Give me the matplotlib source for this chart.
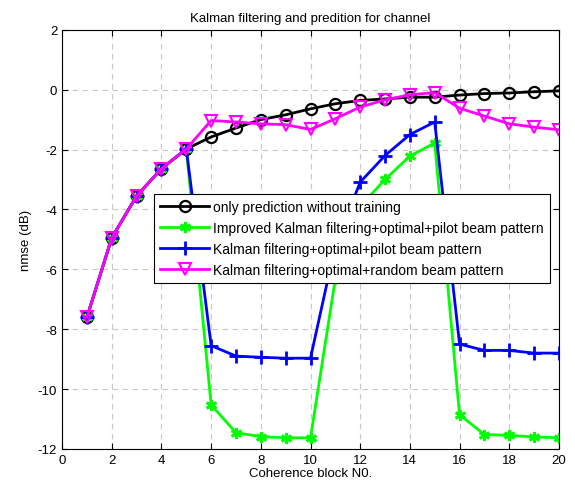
import matplotlib
matplotlib.use('Agg')
import matplotlib.pyplot as plt

plt.rcParams['font.family'] = ['Liberation Sans', 'DejaVu Sans']
plt.rcParams['axes.unicode_minus'] = False

blocks = list(range(1, 21))

only_pred = [-7.6, -4.95, -3.55, -2.64, -1.98, -1.58, -1.28, -1.0, -0.84, -0.64,
             -0.47, -0.36, -0.31, -0.25, -0.25, -0.18, -0.13, -0.11, -0.07, -0.04]
improved_kf = [-7.6, -4.95, -3.55, -2.64, -1.98, -10.53, -11.46, -11.59, -11.63, -11.63,
               -6.32, -3.9, -3.0, -2.22, -1.78, -10.86, -11.52, -11.55, -11.6, -11.63]
kf_pilot = [-7.6, -4.95, -3.55, -2.64, -1.98, -8.55, -8.9, -8.94, -8.97, -8.97,
            -5.2, -3.09, -2.2, -1.5, -1.08, -8.5, -8.71, -8.71, -8.8, -8.8]
kf_random = [-7.6, -4.95, -3.55, -2.64, -1.98, -1.03, -1.08, -1.14, -1.17, -1.33,
             -0.97, -0.58, -0.34, -0.17, -0.1, -0.62, -0.88, -1.14, -1.25, -1.34]

labels = ['only prediction without training',
          'Improved Kalman filtering+optimal+pilot beam pattern',
          'Kalman filtering+optimal+pilot beam pattern',
          'Kalman filtering+optimal+random beam pattern']

fig = plt.figure(figsize=(5.75, 4.89), dpi=100)
ax = fig.add_axes([0.108, 0.08, 0.864, 0.857])

ax.plot(blocks, only_pred, color='black', marker='o', markersize=8, markerfacecolor='none',
        markeredgewidth=1.6, linewidth=2, label=labels[0])
ax.plot(blocks, improved_kf, color='#00ff00', marker=(6, 2, 0), markersize=8,
        markeredgewidth=2, linewidth=2, label=labels[1])
ax.plot(blocks, kf_pilot, color='#0000ff', marker='+', markersize=10,
        markeredgewidth=2, linewidth=2, label=labels[2])
ax.plot(blocks, kf_random, color='#ff00ff', marker='v', markersize=8.5, markerfacecolor='none',
        markeredgewidth=1.5, linewidth=2, label=labels[3])

ax.set_xlim(0, 20)
ax.set_ylim(-12, 2)
ax.set_xticks(range(0, 21, 2))
ax.set_yticks(range(-12, 3, 2))
ax.tick_params(direction='in', top=True, right=True, labelsize=9.5, length=4)
ax.grid(True, linestyle=(0, (5, 4)), color='#c8c8c8', linewidth=0.8)
ax.set_axisbelow(True)

ax.set_title('Kalman filtering and predition for channel', fontsize=9.5, pad=6)
ax.set_xlabel('Coherence block N0.', fontsize=9.5, labelpad=1)
ax.set_ylabel('nmse (dB)', fontsize=9.5)

leg = ax.legend(loc='upper left', bbox_to_anchor=(0.185, 0.609), fontsize=10,
                fancybox=False, framealpha=1, edgecolor='black', borderpad=0.45,
                labelspacing=0.5, handlelength=3.5, handletextpad=0.3, borderaxespad=0)
leg.get_frame().set_linewidth(0.8)

fig.savefig('out.png', dpi=100)
